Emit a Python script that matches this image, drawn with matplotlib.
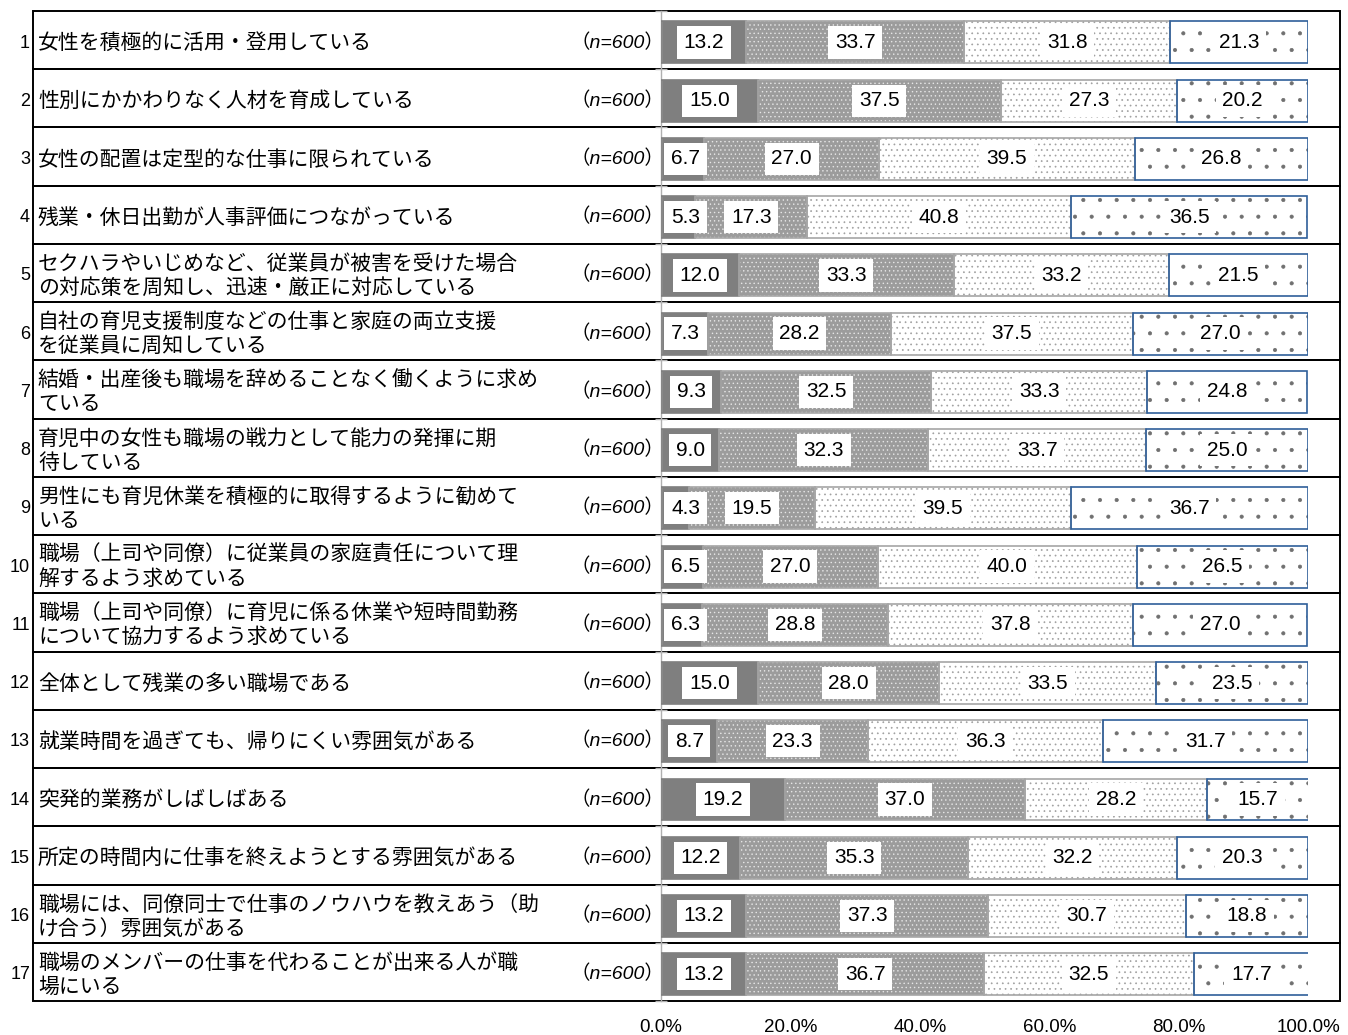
import matplotlib
matplotlib.use("Agg")
import matplotlib.pyplot as plt
import numpy as np
from matplotlib import font_manager
from matplotlib.transforms import blended_transform_factory
from matplotlib.patches import Rectangle

names = {f.name for f in font_manager.fontManager.ttflist}
NARROW = 'Liberation Sans Narrow' if 'Liberation Sans Narrow' in names else 'Liberation Sans'
CJK = 'Noto Sans CJK JP'
plt.rcParams['font.family'] = [CJK, 'DejaVu Sans']
plt.rcParams['hatch.linewidth'] = 0.5

labels = [
    "女性を積極的に活用・登用している",
    "性別にかかわりなく人材を育成している",
    "女性の配置は定型的な仕事に限られている",
    "残業・休日出勤が人事評価につながっている",
    "セクハラやいじめなど、従業員が被害を受けた場合\nの対応策を周知し、迅速・厳正に対応している",
    "自社の育児支援制度などの仕事と家庭の両立支援\nを従業員に周知している",
    "結婚・出産後も職場を辞めることなく働くように求め\nている",
    "育児中の女性も職場の戦力として能力の発揮に期\n待している",
    "男性にも育児休業を積極的に取得するように勧めて\nいる",
    "職場（上司や同僚）に従業員の家庭責任について理\n解するよう求めている",
    "職場（上司や同僚）に育児に係る休業や短時間勤務\nについて協力するよう求めている",
    "全体として残業の多い職場である",
    "就業時間を過ぎても、帰りにくい雰囲気がある",
    "突発的業務がしばしばある",
    "所定の時間内に仕事を終えようとする雰囲気がある",
    "職場には、同僚同士で仕事のノウハウを教えあう（助\nけ合う）雰囲気がある",
    "職場のメンバーの仕事を代わることが出来る人が職\n場にいる",
]
n_label = "（n=600）"

seg1 = [13.2, 15.0, 6.7, 5.3, 12.0, 7.3, 9.3, 9.0, 4.3, 6.5, 6.3, 15.0, 8.7, 19.2, 12.2, 13.2, 13.2]
seg2 = [33.7, 37.5, 27.0, 17.3, 33.3, 28.2, 32.5, 32.3, 19.5, 27.0, 28.8, 28.0, 23.3, 37.0, 35.3, 37.3, 36.7]
seg3 = [31.8, 27.3, 39.5, 40.8, 33.2, 37.5, 33.3, 33.7, 39.5, 40.0, 37.8, 33.5, 36.3, 28.2, 32.2, 30.7, 32.5]
seg4 = [21.3, 20.2, 26.8, 36.5, 21.5, 27.0, 24.8, 25.0, 36.7, 26.5, 27.0, 23.5, 31.7, 15.7, 20.3, 18.8, 17.7]

xticks = [0, 20, 40, 60, 80, 100]
xticklabels = ["0.0%", "20.0%", "40.0%", "60.0%", "80.0%", "100.0%"]

W, H = 1348, 1035
fig = plt.figure(figsize=(W / 100, H / 100), dpi=100)
ax_l, ax_r, ax_t, ax_b = 661, 1308, 11, 1001
ax = fig.add_axes([ax_l / W, 1 - ax_b / H, (ax_r - ax_l) / W, (ax_b - ax_t) / H])

nrow = len(labels)
rows = np.arange(nrow)
ax.set_xlim(0, 100)
ax.set_ylim(nrow - 0.5, -0.5)

ypos = rows + 0.04
bh = 0.72
segs = [seg1, seg2, seg3, seg4]
styles = [
    dict(face='#7f7f7f', hatch=None, hcol=None, edge='#7f7f7f'),
    dict(face='#9c9c9c', hatch='....', hcol='#e6e6e6', edge='#a6a6a6'),
    dict(face='#ffffff', hatch='...', hcol='#a0a0a0', edge='#a6a6a6'),
    dict(face='#ffffff', hatch='.', hcol='#707070', edge='#2f5f9a'),
]
left = np.zeros(nrow)
for vals, st in zip(segs, styles):
    vals = np.array(vals)
    if st['hatch']:
        ax.barh(ypos, vals, left=left, height=bh, color=st['face'], edgecolor=st['hcol'],
                hatch=st['hatch'], linewidth=0, zorder=2)
    else:
        ax.barh(ypos, vals, left=left, height=bh, color=st['face'], linewidth=0, zorder=2)
    ax.barh(ypos, vals, left=left, height=bh, fill=False, edgecolor=st['edge'], linewidth=1.2, zorder=3)
    for i in range(nrow):
        cx = left[i] + vals[i] / 2
        cx = max(cx, 3.8)
        ax.text(cx, ypos[i], f"{vals[i]:.1f}", ha='center', va='center', fontsize=15,
                family=[NARROW, 'DejaVu Sans'], zorder=5,
                bbox=dict(boxstyle='square,pad=0.32', facecolor='white', edgecolor='none'))
    left = left + vals

# row boxes and labels
tr = blended_transform_factory(fig.transFigure, ax.transData)
for i in rows:
    fig_rect = Rectangle((33 / W, i - 0.5), (1340 - 33) / W, 1.0, transform=tr, fill=False,
                         edgecolor='black', linewidth=1.4, clip_on=False, zorder=1)
    ax.add_patch(fig_rect)
    ax.text(30 / W, i + 0.05, str(i + 1), transform=tr, ha='right', va='center', fontsize=13,
            family=[NARROW, 'DejaVu Sans'])
    ax.text(38 / W, i + 0.05, labels[i], transform=tr, ha='left', va='center', fontsize=15,
            family=[CJK], linespacing=1.12)
    ax.text(664 / W, i + 0.04, n_label, transform=tr, ha='right', va='center', fontsize=14,
            family=[NARROW, CJK], style='italic')

# axes styling
for s in ['top', 'right', 'bottom']:
    ax.spines[s].set_visible(False)
ax.spines['left'].set_color('#b0b0b0')
ax.spines['left'].set_linewidth(1.0)
ax.set_yticks(np.arange(-0.5, nrow + 0.5, 1.0))
ax.set_yticklabels([])
ax.tick_params(axis='y', direction='inout', length=8, color='#b0b0b0', width=1.0)
ax.set_xticks(xticks)
ax.set_xticklabels(xticklabels, fontsize=13.5, family=[NARROW, 'DejaVu Sans'])
ax.tick_params(axis='x', length=0, pad=13)

fig.savefig("out.png", dpi=100)
